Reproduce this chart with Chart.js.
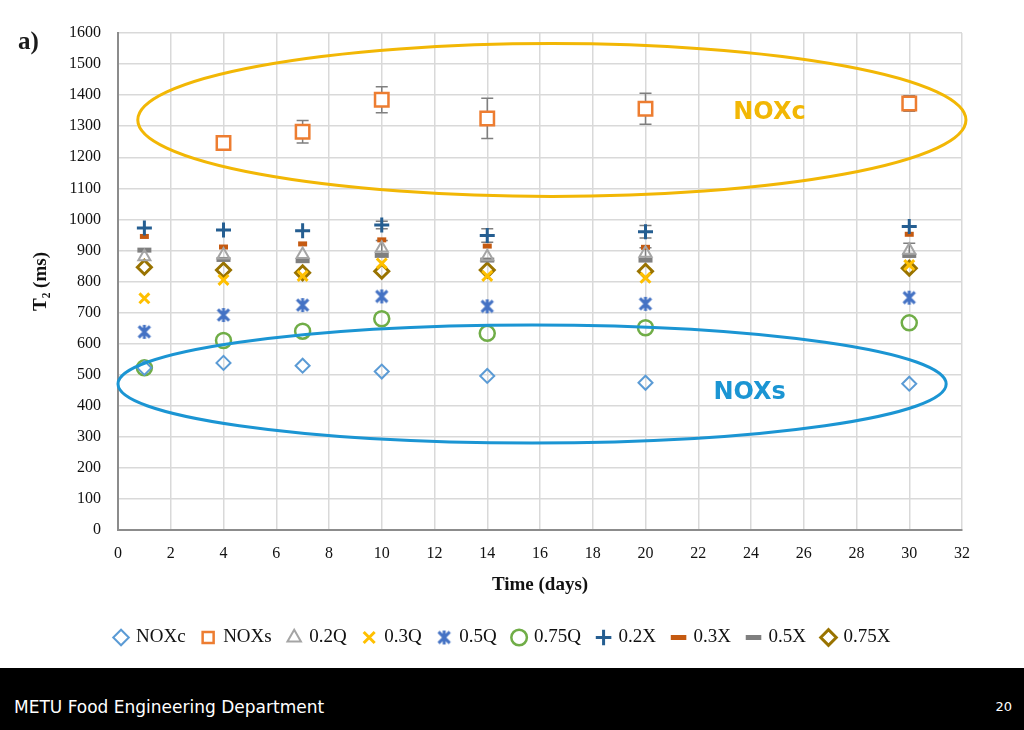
<!DOCTYPE html>
<html>
<head>
<meta charset="utf-8">
<script src="https://cdn.jsdelivr.net/npm/chart.js@4/dist/chart.umd.min.js"></script>
<style>
  body { margin: 0; background: #fff; width: 1024px; height: 730px; overflow: hidden; position: relative; }
  #wrap { position: absolute; left: 0; top: 0; width: 1024px; height: 668px; }
  #tag { position: absolute; left: 18px; top: 27px; font: bold 25px "Liberation Serif", serif; color: #1a1a1a; }
  #foot { position: absolute; left: 0; top: 668px; width: 1024px; height: 62px; background: #000; color: #fff;
          font: 17px "DejaVu Sans", sans-serif; }
  #foot .l { position: absolute; left: 14px; top: 29px; }
  #foot .r { position: absolute; right: 12px; top: 31px; font-size: 13px; }
</style>
</head>
<body>
<div id="wrap"><canvas id="t2Chart"></canvas></div>
<div id="tag">a)</div>
<div id="foot"><span class="l">METU Food Engineering Department</span><span class="r">20</span></div>
<script>
// storage time (days)
const days = [1, 4, 7, 10, 14, 20, 30];

// T2 (ms) per sample
const noxc = [522, 538, 529, 510, 496, 474, 471];
const noxs = [null, 1246, 1282, 1385, 1325, 1356, 1373];
const q02  = [880, 885, 887, 907, 880, 891, 901];
const q03  = [746, 805, 818, 858, 818, 812, 853];
const q05  = [638, 692, 724, 752, 720, 728, 748];
const q075 = [522, 610, 640, 680, 633, 651, 667];
const x02  = [972, 966, 963, 982, 948, 960, 977];
const x03  = [945, 911, 921, 934, 914, 910, 952];
const x05  = [901, 871, 867, 884, 869, 869, 884];
const x075 = [846, 837, 828, 833, 837, 833, 843];

// error bars (+/- ms)
const noxsErr = [0, 15, 36, 42, 65, 50, 25];
const x02Err  = [0, 0, 0, 12, 22, 20, 0];
const q02Err  = [0, 0, 0, 25, 0, 18, 22];

const xTicks = [0, 32, 2];
const yTicks = [0, 1600, 100];

function pts(vals) {
    return days.map((d, i) => ({ x: d, y: vals[i] }));
}

// six-armed asterisk like the Excel marker
function asterisk(color, size) {
    const c = document.createElement('canvas');
    c.width = size; c.height = size;
    const g = c.getContext('2d');
    const m = size / 2, r = size / 2 - 2;
    g.strokeStyle = color;
    g.lineWidth = 3;
    g.beginPath();
    g.moveTo(m, m - r); g.lineTo(m, m + r);
    g.moveTo(m - r * 0.8, m - r * 0.8); g.lineTo(m + r * 0.8, m + r * 0.8);
    g.moveTo(m + r * 0.8, m - r * 0.8); g.lineTo(m - r * 0.8, m + r * 0.8);
    g.stroke();
    return c;
}

function series(label, vals, style, color, radius, width, fill) {
    return {
        label: label,
        data: pts(vals),
        pointStyle: style,
        pointRadius: radius,
        pointHoverRadius: radius,
        borderColor: color,
        pointBorderColor: color,
        backgroundColor: fill || 'rgba(255,255,255,0)',
        pointBackgroundColor: fill || 'rgba(255,255,255,0)',
        borderWidth: width,
        pointBorderWidth: width,
        showLine: false
    };
}

const errors = { 'NOXs': noxsErr, '0.2X': x02Err, '0.2Q': q02Err };

const errorBars = {
    id: 'errorBars',
    beforeDatasetsDraw(chart) {
        const ctx = chart.ctx;
        const xs = chart.scales.x, ys = chart.scales.y;
        ctx.save();
        ctx.strokeStyle = '#7f7f7f';
        ctx.lineWidth = 1.5;
        chart.data.datasets.forEach(ds => {
            const err = errors[ds.label];
            if (!err) return;
            ds.data.forEach((p, i) => {
                if (p.y == null || !err[i]) return;
                const px = xs.getPixelForValue(p.x);
                const top = ys.getPixelForValue(p.y + err[i]);
                const bot = ys.getPixelForValue(p.y - err[i]);
                ctx.beginPath();
                ctx.moveTo(px, top); ctx.lineTo(px, bot);
                ctx.moveTo(px - 6, top); ctx.lineTo(px + 6, top);
                ctx.moveTo(px - 6, bot); ctx.lineTo(px + 6, bot);
                ctx.stroke();
            });
        });
        ctx.restore();
    }
};

// ellipses and their labels, placed in data units
const groups = [
    { text: 'NOXc', color: '#f2b705', cx: 16.45, cy: 1320, rx: 15.7, ry: 246, tx: 24.7, ty: 1342 },
    { text: 'NOXs', color: '#1b95d3', cx: 15.7, cy: 470, rx: 15.7, ry: 190, tx: 23.95, ty: 441 }
];

const groupMarks = {
    id: 'groupMarks',
    afterDatasetsDraw(chart) {
        const ctx = chart.ctx;
        const xs = chart.scales.x, ys = chart.scales.y;
        ctx.save();
        groups.forEach(g => {
            const cx = xs.getPixelForValue(g.cx), cy = ys.getPixelForValue(g.cy);
            const rx = Math.abs(xs.getPixelForValue(g.cx + g.rx) - cx);
            const ry = Math.abs(ys.getPixelForValue(g.cy + g.ry) - cy);
            ctx.beginPath();
            ctx.ellipse(cx, cy, rx, ry, 0, 0, Math.PI * 2);
            ctx.strokeStyle = g.color;
            ctx.lineWidth = 3;
            ctx.stroke();
            ctx.fillStyle = g.color;
            ctx.font = 'bold 24px "DejaVu Sans", sans-serif';
            ctx.textAlign = 'center';
            ctx.textBaseline = 'middle';
            ctx.fillText(g.text, xs.getPixelForValue(g.tx), ys.getPixelForValue(g.ty));
        });
        ctx.restore();
    }
};

const serif = '"Liberation Serif", "Times New Roman", serif';

new Chart(document.getElementById('t2Chart'), {
    type: 'scatter',
    data: {
        datasets: [
            series('NOXc', noxc, 'rectRot', '#5b9bd5', 7, 2),
            series('NOXs', noxs, 'rect', '#ed7d31', 9.5, 2.5, '#ffffff'),
            series('0.2Q', q02, 'triangle', '#a5a5a5', 7, 2),
            series('0.3Q', q03, 'crossRot', '#ffc000', 7, 3),
            series('0.5Q', q05, asterisk('#4472c4', 18), '#4472c4', 8, 3),
            series('0.75Q', q075, 'circle', '#70ad47', 7.5, 2.5),
            series('0.2X', x02, 'cross', '#255e91', 7.5, 3),
            series('0.3X', x03, 'line', '#c55a11', 4.5, 5),
            series('0.5X', x05, 'line', '#7f7f7f', 7, 5),
            series('0.75X', x075, 'rectRot', '#997300', 7, 3)
        ]
    },
    options: {
        responsive: true,
        maintainAspectRatio: false,
        animation: false,
        layout: { padding: { top: 33, right: 18, left: 0, bottom: 11 } },
        plugins: {
            tooltip: { enabled: false },
            legend: {
                position: 'bottom',
                labels: {
                    usePointStyle: true,
                    boxWidth: 11,
                    boxHeight: 11,
                    padding: 17,
                    color: '#111',
                    font: { family: serif, size: 19 }
                }
            }
        },
        scales: {
            x: {
                type: 'linear',
                min: xTicks[0], max: xTicks[1],
                afterFit(s) { s.height = 81; },
                ticks: { stepSize: xTicks[2], padding: 14, color: '#111', font: { family: serif, size: 16 } },
                grid: { color: '#d9d9d9', lineWidth: 1.5, drawTicks: false },
                border: { color: '#8c8c8c', width: 2 },
                title: { display: true, text: 'Time (days)', color: '#111',
                         font: { family: serif, size: 19, weight: 'bold' }, padding: { top: 0, bottom: 15 } }
            },
            y: {
                min: yTicks[0], max: yTicks[1],
                afterFit(s) { s.width = 118; },
                ticks: { stepSize: yTicks[2], padding: 17, color: '#111', font: { family: serif, size: 16 },
                         callback: v => String(v) },
                grid: { color: '#d9d9d9', lineWidth: 1.5, drawTicks: false },
                border: { color: '#8c8c8c', width: 2 },
                title: { display: true, text: 'T\u2082 (ms)', color: '#111',
                         font: { family: serif, size: 19, weight: 'bold' }, padding: { top: 30, bottom: 0 } }
            },
            // empty right-hand spacer so the legend centres on the page
            spacer: {
                type: 'linear',
                position: 'right',
                afterFit(s) { s.width = 44; },
                ticks: { display: false },
                grid: { display: false, drawTicks: false },
                border: { display: false }
            }
        }
    },
    plugins: [errorBars, groupMarks]
});
</script>
</body>
</html>
